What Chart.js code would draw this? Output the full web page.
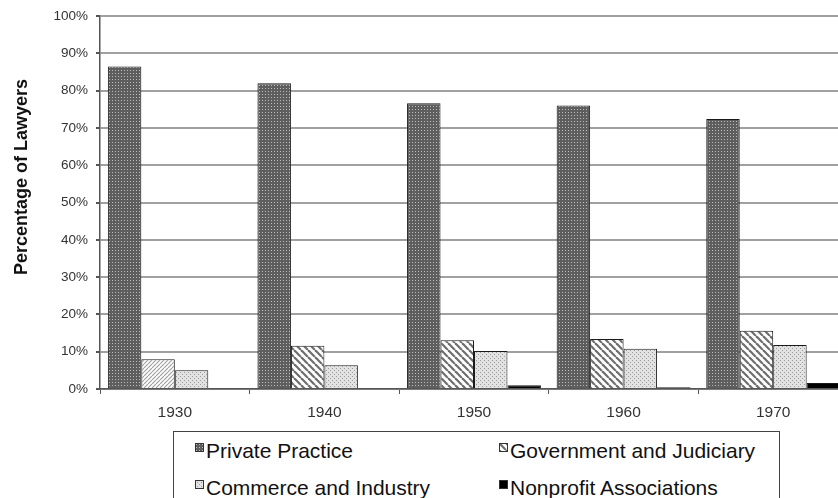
<!DOCTYPE html>
<html>
<head>
<meta charset="utf-8">
<script src="https://cdn.jsdelivr.net/npm/chart.js@4.4.0/dist/chart.umd.min.js"></script>
<style>
    body { margin: 0; overflow: hidden; background: #fff; width: 838px; height: 498px; font-family: "Liberation Sans", Arial, sans-serif; }
    #wrap { position: relative; width: 850px; height: 498px; }
    #legend-box { position: absolute; left: 173px; top: 431px; width: 605px; height: 90px; border: 1px solid #444; background: #fff; }
    .lg-text { position: absolute; font-size: 21px; line-height: 24px; color: #111; white-space: nowrap; }
    .lg-mark { position: absolute; width: 9px; height: 9px; }
</style>
</head>
<body>
<div id="wrap">
    <canvas id="chart" width="850" height="498"></canvas>
    <div id="legend-box"></div>
</div>
<script>
// Data
const years = ['1930', '1940', '1950', '1960', '1970'];
const seriesNames = ['Private Practice', 'Government and Judiciary', 'Commerce and Industry', 'Nonprofit Associations'];
const privatePractice = [86.5, 82, 76.6, 76, 72.4];
const government = [8, 11.6, 13.1, 13.4, 15.6];
const commerce = [5, 6.4, 10.2, 10.8, 11.8];
const nonprofit = [0, 0, 1, 0.5, 1.6];

// Fill patterns
function dotPattern(bg, dot, size, dots) {
    const c = document.createElement('canvas');
    c.width = size; c.height = size;
    const g = c.getContext('2d');
    g.fillStyle = bg;
    g.fillRect(0, 0, size, size);
    g.fillStyle = dot;
    dots.forEach(p => g.fillRect(p[0], p[1], 1, 1));
    return g.createPattern(c, 'repeat');
}

function stripePattern(color, size, width, forward) {
    const c = document.createElement('canvas');
    c.width = size; c.height = size;
    const g = c.getContext('2d');
    g.fillStyle = '#fff';
    g.fillRect(0, 0, size, size);
    g.strokeStyle = color;
    g.lineWidth = width;
    [-size, 0, size].forEach(k => {
        g.beginPath();
        if (forward) {
            g.moveTo(k, size); g.lineTo(k + size, 0);
        } else {
            g.moveTo(k, 0); g.lineTo(k + size, size);
        }
        g.stroke();
    });
    return g.createPattern(c, 'repeat');
}

const privateFill = dotPattern('#5e5e5e', '#bdbdbd', 3, [[1, 1]]);
const govFill = stripePattern('#6e6e6e', 7, 2.2, false);
const govFineFill = stripePattern('#a0a0a0', 4, 1.2, true);
const commerceFill = dotPattern('#e2e2e2', '#9c9c9c', 4, [[0, 0], [2, 2]]);
const nonprofitFill = '#000';

// y axis title, placed where the picture has it
const yTitle = {
    id: 'yTitle',
    afterDraw(chart) {
        const g = chart.ctx;
        g.save();
        g.translate(22, 177);
        g.rotate(-Math.PI / 2);
        g.font = 'bold 18px "Liberation Sans", Arial, sans-serif';
        g.fillStyle = '#111';
        g.textAlign = 'center';
        g.textBaseline = 'middle';
        g.fillText('Percentage of Lawyers', 0, 0);
        g.restore();
    }
};

const ctx = document.getElementById('chart');
new Chart(ctx, {
    type: 'bar',
    data: {
        labels: years,
        datasets: [
            { label: seriesNames[0], data: privatePractice, backgroundColor: privateFill },
            { label: seriesNames[1], data: government, backgroundColor: years.map((y, i) => i === 0 ? govFineFill : govFill) },
            { label: seriesNames[2], data: commerce, backgroundColor: commerceFill },
            { label: seriesNames[3], data: nonprofit, backgroundColor: nonprofitFill }
        ].map(ds => Object.assign(ds, {
            borderColor: '#1a1a1a',
            borderWidth: 1,
            borderSkipped: 'bottom',
            categoryPercentage: 0.895,
            barPercentage: 1
        }))
    },
    options: {
        responsive: false,
        animation: false,
        devicePixelRatio: 1,
        layout: { padding: { top: 15, right: 2, bottom: 0, left: 0 } },
        plugins: {
            legend: { display: false },
            tooltip: { enabled: false }
        },
        scales: {
            x: {
                grid: { drawOnChartArea: false, tickLength: 5, tickColor: '#555' },
                border: { color: '#555', width: 1.5 },
                ticks: { color: '#333', font: { family: 'Liberation Sans', size: 15.5 }, padding: 9 },
                afterFit: scale => { scale.height = 109; }
            },
            y: {
                min: 0,
                max: 100,
                grid: { color: '#a0a0a0', lineWidth: 2, tickLength: 4, tickColor: '#555' },
                border: { color: '#555', width: 1.5 },
                ticks: {
                    stepSize: 10,
                    color: '#333',
                    font: { family: 'Liberation Sans', size: 13.5 },
                    padding: 8,
                    callback: v => v + '%'
                },
                afterFit: scale => { scale.width = 100; }
            }
        }
    },
    plugins: [yTitle]
});

// Legend in a bordered box, two columns
const legendItems = [
    { name: seriesNames[0], fill: privateFill, x: 195, y: 439 },
    { name: seriesNames[1], fill: govFill, x: 499, y: 439 },
    { name: seriesNames[2], fill: commerceFill, x: 195, y: 476 },
    { name: seriesNames[3], fill: nonprofitFill, x: 499, y: 476 }
];
const wrap = document.getElementById('wrap');
legendItems.forEach(item => {
    const mark = document.createElement('canvas');
    mark.className = 'lg-mark';
    mark.width = 9; mark.height = 9;
    mark.style.left = item.x + 'px';
    mark.style.top = (item.y + 4) + 'px';
    const g = mark.getContext('2d');
    g.fillStyle = item.fill;
    g.fillRect(0, 0, 9, 9);
    g.strokeStyle = '#333';
    g.lineWidth = 1;
    g.strokeRect(0.5, 0.5, 8, 8);
    wrap.appendChild(mark);

    const text = document.createElement('div');
    text.className = 'lg-text';
    text.textContent = item.name;
    text.style.left = (item.x + 11) + 'px';
    text.style.top = item.y + 'px';
    wrap.appendChild(text);
});
</script>
</body>
</html>
